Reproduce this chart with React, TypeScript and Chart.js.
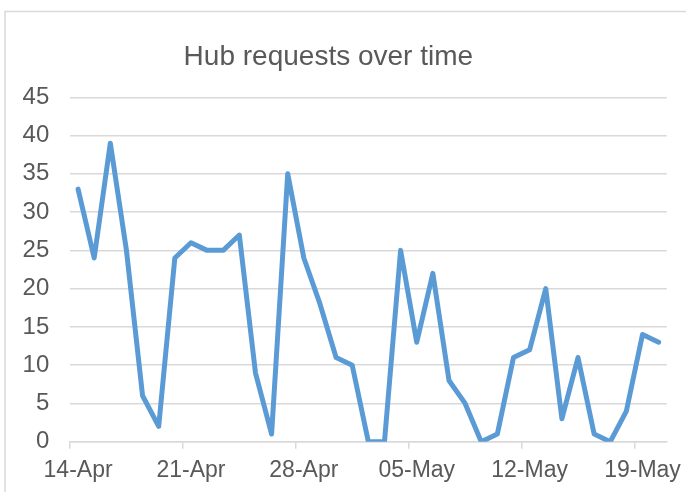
import React, { useEffect, useRef } from 'react';
import { Chart, registerables } from 'chart.js';

Chart.register(...registerables);

const dates = [
  '14-Apr', '15-Apr', '16-Apr', '17-Apr', '18-Apr', '19-Apr', '20-Apr',
  '21-Apr', '22-Apr', '23-Apr', '24-Apr', '25-Apr', '26-Apr', '27-Apr',
  '28-Apr', '29-Apr', '30-Apr', '01-May', '02-May', '03-May', '04-May',
  '05-May', '06-May', '07-May', '08-May', '09-May', '10-May', '11-May',
  '12-May', '13-May', '14-May', '15-May', '16-May', '17-May', '18-May',
  '19-May', '20-May',
];

const requests = [
  33, 24, 39, 25, 6, 2, 24,
  26, 25, 25, 27, 9, 1, 35,
  24, 18, 11, 10, 0, 0, 25,
  13, 22, 8, 5, 0, 1, 11,
  12, 20, 3, 11, 1, 0, 4,
  14, 13,
];

const shownTicks = ['14-Apr', '21-Apr', '28-Apr', '05-May', '12-May', '19-May'];

const yMin = 0;
const yMax = 45;
const yStep = 5;

const titleText = 'Hub requests over time';

const FONT = "'Liberation Sans', Arial, sans-serif";
const TEXT = '#595959';
const GRID = '#d9d9d9';
const LINE = '#5B9BD5';

const frame = {
  id: 'frame',
  beforeDraw(chart: any) {
    const ctx = chart.ctx;
    ctx.save();
    ctx.fillStyle = '#ffffff';
    ctx.fillRect(0, 0, chart.width, chart.height);
    ctx.strokeStyle = GRID;
    ctx.lineWidth = 1.5;
    ctx.strokeRect(5, 11.5, chart.width + 50, chart.height + 50);
    ctx.restore();
  },
};

export default function App() {
  const ref = useRef<HTMLCanvasElement | null>(null);

  useEffect(() => {
    if (!ref.current) return;
    const chart = new Chart(ref.current, {
      type: 'line',
      data: {
        labels: dates,
        datasets: [
          {
            data: requests,
            borderColor: LINE,
            backgroundColor: LINE,
            borderWidth: 5,
            pointRadius: 0,
            tension: 0,
            borderJoinStyle: 'round',
            borderCapStyle: 'round',
          },
        ],
      },
      options: {
        animation: false,
        responsive: false,
        layout: { padding: { left: -10, right: 19.3, top: 0, bottom: 0 } },
        plugins: {
          legend: { display: false },
          tooltip: { enabled: false },
          title: {
            display: true,
            text: titleText,
            color: TEXT,
            font: { family: FONT, size: 28, weight: 'normal' },
            padding: { top: 40.5, bottom: 23.2 },
          },
        },
        scales: {
          x: {
            type: 'category',
            offset: true,
            grid: {
              offset: true,
              drawOnChartArea: false,
              drawTicks: true,
              tickLength: 7,
              lineWidth: 1.5,
              color: GRID,
              tickColor: (c: any) =>
                shownTicks.includes(dates[c.index]) ? GRID : 'rgba(0,0,0,0)',
            },
            border: { color: GRID, width: 1.5 },
            ticks: {
              autoSkip: false,
              maxRotation: 0,
              minRotation: 0,
              padding: 8,
              color: TEXT,
              font: { family: FONT, size: 23 },
              callback: (_v: any, i: number) =>
                shownTicks.includes(dates[i]) ? dates[i] : '',
            },
            afterFit: (s: any) => {
              s.height = 50.3;
            },
          },
          y: {
            min: yMin,
            max: yMax,
            ticks: {
              stepSize: yStep,
              padding: 20.7,
              color: TEXT,
              font: { family: FONT, size: 24 },
            },
            grid: { color: GRID, lineWidth: 1.5, drawTicks: false },
            border: { display: false },
            afterFit: (s: any) => {
              s.width = 80;
            },
          },
        },
      },
      plugins: [frame],
    } as any);
    return () => chart.destroy();
  }, []);

  return (
    <div style={{ position: 'absolute', left: 0, top: 0, width: 686, height: 492, overflow: 'hidden' }}>
      <canvas ref={ref} width={686} height={492} />
    </div>
  );
}
